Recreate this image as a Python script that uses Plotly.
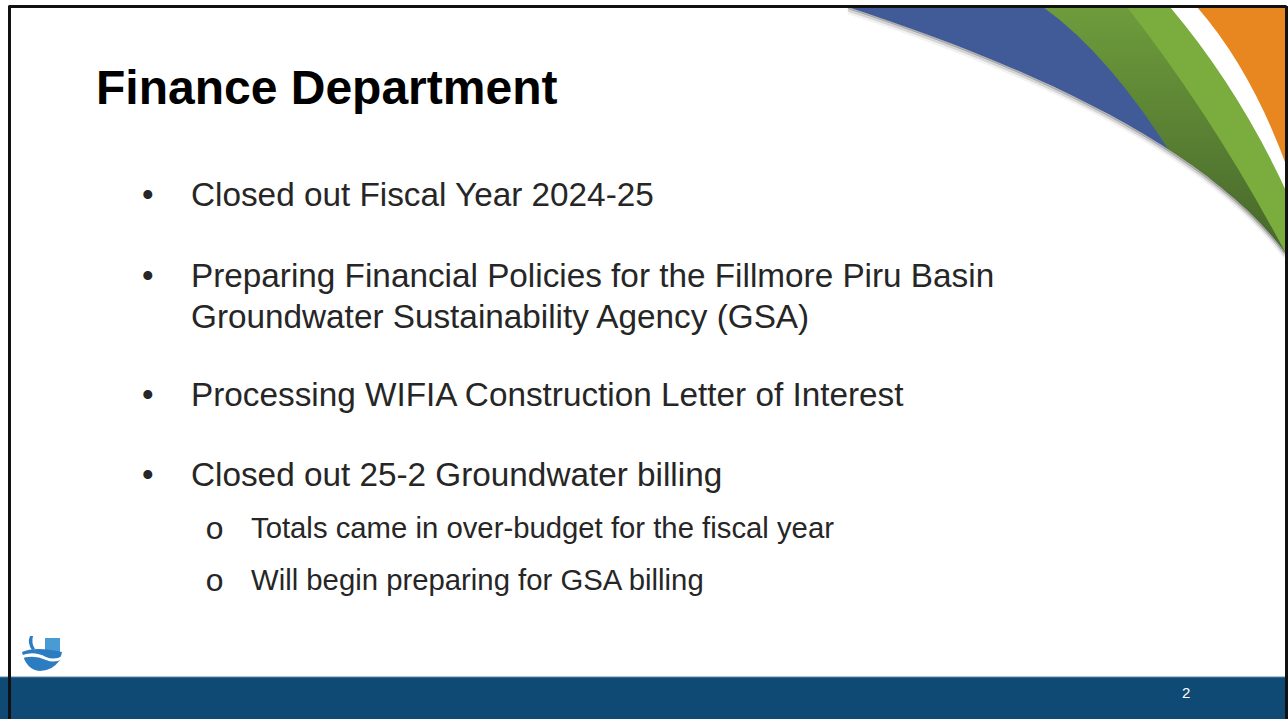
import plotly.graph_objects as go

W, H = 1288, 719

TITLE = "Finance Department"
BULLETS = [
    ["Closed out Fiscal Year 2024-25"],
    ["Preparing Financial Policies for the Fillmore Piru Basin",
     "Groundwater Sustainability Agency (GSA)"],
    ["Processing WIFIA Construction Letter of Interest"],
    ["Closed out 25-2 Groundwater billing"],
]
BULLET_Y = [194, 275, 394, 474]
SUB_BULLETS = [
    "Totals came in over-budget for the fiscal year",
    "Will begin preparing for GSA billing",
]
SUB_Y = [527, 579]
PAGE_NO = "2"

TEXT = "#262626"
BAR = "#0f4a74"
BLUE = "#405b98"
LIGHT_GREEN = "#7bac3e"
ORANGE = "#e8861f"
FONT = "Liberation Sans, Arial, sans-serif"

fig = go.Figure()

# dark green back layer of the swoosh, shaded darker towards the bottom
fig.add_trace(go.Scatter(
    x=[1000, 1288, 1288, 1000, 1000], y=[7, 7, 260, 260, 7],
    mode="lines", line=dict(width=0), fill="toself", hoverinfo="skip",
    fillgradient=dict(type="vertical", colorscale=[[0, "#45652a"], [1, "#6e9c3c"]]),
))

shapes = []


def path(d, fill):
    shapes.append(dict(type="path", path=d, xref="x", yref="y", fillcolor=fill,
                       line=dict(color=fill, width=0), layer="above"))


# swoosh, layered back to front
path("M 820,7 L 1043,7 Q 1110,55 1175,160 L 1175,300 L 820,300 Z", BLUE)
path("M 1127,7 Q 1215,120 1285,252 L 1288,252 L 1288,7 Z", LIGHT_GREEN)
path("M 1170,7 Q 1240,90 1288,195 L 1288,7 Z", "#ffffff")
path("M 1197,7 Q 1252,70 1288,170 L 1288,7 Z", ORANGE)
# white area beneath the outer curve
curve = "C 1010,60 1200,140 1285,252"
path(f"M 780,7 L 848,7 {curve} L 1290,330 L 780,330 Z", "#ffffff")
# soft shadow along the curve
for dy, w, a in [(1, 2, 0.35), (3, 3, 0.15), (5, 4, 0.06)]:
    shapes.append(dict(type="path", xref="x", yref="y", layer="above",
                       path=f"M 848,{7 + dy} C 1010,{60 + dy} 1200,{140 + dy} 1285,{252 + dy}",
                       line=dict(color=f"rgba(40,40,40,{a})", width=w)))

# bottom bar
shapes.append(dict(type="rect", xref="x", yref="y", x0=0, x1=W, y0=677, y1=H,
                   fillcolor=BAR, line=dict(width=0), layer="above"))
shapes.append(dict(type="line", xref="x", yref="y", x0=0, x1=W, y0=677, y1=677,
                   line=dict(color="#5a86ad", width=1), layer="above"))

# slide frame
for x0, y0, x1, y1 in [(8.5, 6.5, 1286.5, 6.5), (9.5, 6, 9.5, H), (1286.5, 6, 1286.5, H)]:
    shapes.append(dict(type="line", xref="x", yref="y", x0=x0, y0=y0, x1=x1, y1=y1,
                       line=dict(color="#111111", width=3), layer="above"))

# logo
path("M 45,638 L 60,638 L 60,654 L 45,654 Z", "#4a9ad6")
path("M 22,652 Q 35,646 62,652 L 60,660 Q 52,671 40,671 Q 26,670 22,652 Z", "#2b7cc0")
path("M 20,656 Q 33,650 46,657 Q 55,661 64,655 L 64,658 Q 55,664 46,660 Q 33,654 20,659 Z", "#ffffff")
path("M 30,636 Q 27,643 32,650 L 35,649 Q 31,643 33,636 Z", "#2b7cc0")

annotations = [dict(x=94, y=87, text=f"<b>{TITLE}</b>", xanchor="left", yanchor="middle",
                    showarrow=False, font=dict(family=FONT, size=48, color="#000000"))]

for lines, y in zip(BULLETS, BULLET_Y):
    annotations.append(dict(x=140, y=y, text="•", xanchor="left", yanchor="middle",
                            showarrow=False, font=dict(family=FONT, size=33, color=TEXT)))
    for i, line in enumerate(lines):
        annotations.append(dict(x=189, y=y + 41 * i, text=line, xanchor="left", yanchor="middle",
                                showarrow=False, font=dict(family=FONT, size=33.3, color=TEXT)))

for text, y in zip(SUB_BULLETS, SUB_Y):
    annotations.append(dict(x=203, y=y + 3, text="o", xanchor="left", yanchor="middle",
                            showarrow=False, font=dict(family="Liberation Mono, monospace", size=32, color=TEXT)))
    annotations.append(dict(x=249, y=y, text=text, xanchor="left", yanchor="middle",
                            showarrow=False, font=dict(family=FONT, size=29.3, color=TEXT)))

annotations.append(dict(x=1186, y=692, text=PAGE_NO, showarrow=False,
                        font=dict(family=FONT, size=15, color="#ffffff")))

fig.update_layout(
    width=W, height=H,
    margin=dict(l=0, r=0, t=0, b=0),
    paper_bgcolor="#ffffff", plot_bgcolor="#ffffff",
    xaxis=dict(range=[0, W], visible=False, fixedrange=True),
    yaxis=dict(range=[H, 0], visible=False, fixedrange=True),
    shapes=shapes, annotations=annotations,
    showlegend=False,
)

fig.write_html("out.html", config={"displayModeBar": False},
               post_script="document.body.style.margin='0';")
